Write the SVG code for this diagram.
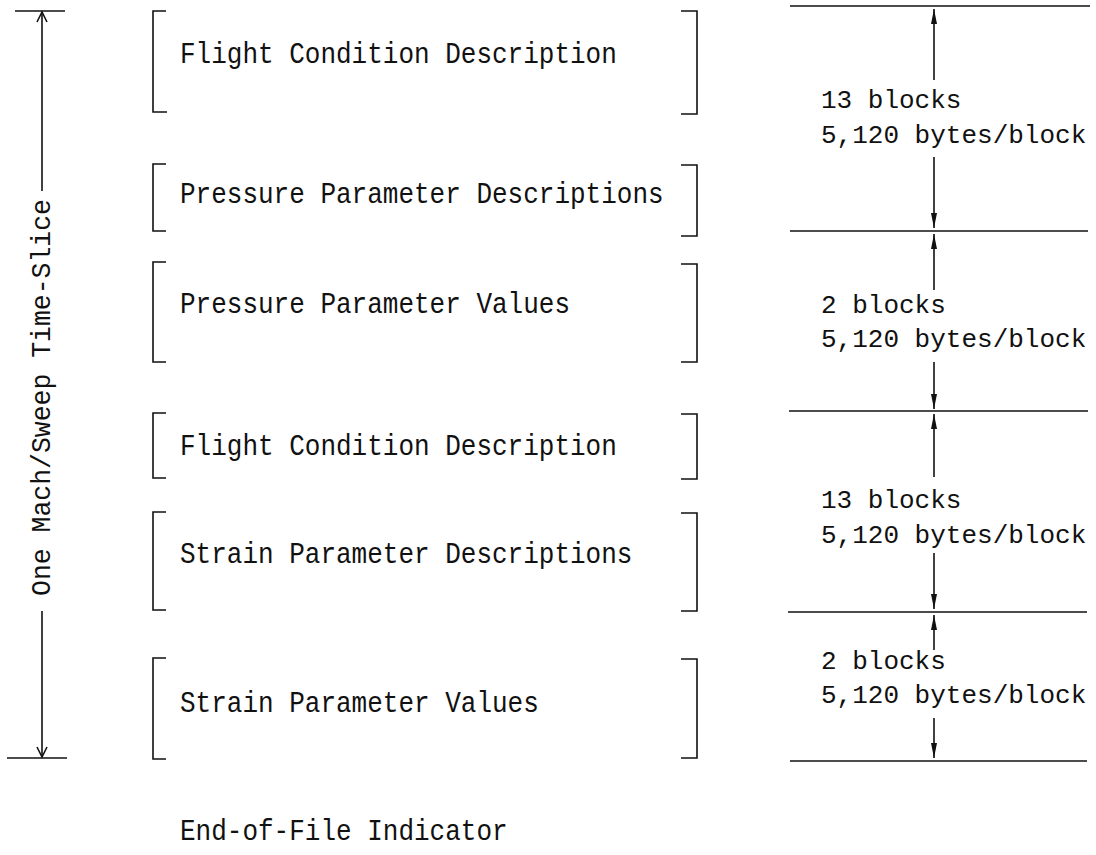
<svg xmlns="http://www.w3.org/2000/svg" width="1096" height="855" viewBox="0 0 1096 855">
<style>
.ln{stroke:#111;stroke-width:1.6;fill:none}
.br{stroke:#111;stroke-width:1.6;fill:none}
.t{font-family:"Liberation Mono","DejaVu Sans Mono",monospace;font-size:29px;fill:#111}
.tr{font-family:"Liberation Mono","DejaVu Sans Mono",monospace;font-size:26px;fill:#111}
.tl{font-family:"Liberation Mono","DejaVu Sans Mono",monospace;font-size:27px;fill:#111}
</style>
<defs>
<marker id="ah" viewBox="0 0 16 8" refX="16" refY="4" markerWidth="16" markerHeight="8" markerUnits="userSpaceOnUse" orient="auto">
<path d="M16,4 L1,1 L1,7 Z" fill="#111"/>
</marker>
</defs>
<rect width="1096" height="855" fill="#fff"/>

<g id="span-label">
<line class="ln" x1="15" y1="11" x2="65" y2="11"/>
<line class="ln" x1="7" y1="758" x2="67" y2="758"/>
<line class="ln" x1="42" y1="12" x2="42" y2="191"/>
<line class="ln" x1="42" y1="611" x2="42" y2="757"/>
<polyline class="ln" points="37,22 42,12 47,22"/>
<polyline class="ln" points="37,747 42,757 47,747"/>
<text class="tl" transform="translate(50,596) rotate(-90)" textLength="397" lengthAdjust="spacingAndGlyphs">One Mach/Sweep Time-Slice</text>
</g>

<g id="node-flight1">
<path class="br" d="M166,11 H153 V112 H167"/>
<path class="br" d="M681,11 H697 V114 H681"/>
<text class="t" x="180" y="63" textLength="436.8" lengthAdjust="spacingAndGlyphs">Flight Condition Description</text>
</g>
<g id="node-pressure-desc">
<path class="br" d="M166,164 H153 V231 H166"/>
<path class="br" d="M681,165 H697 V236 H681"/>
<text class="t" x="180" y="203" textLength="483.6" lengthAdjust="spacingAndGlyphs">Pressure Parameter Descriptions</text>
</g>
<g id="node-pressure-values">
<path class="br" d="M166,262 H153 V362 H166"/>
<path class="br" d="M681,264 H697 V362 H681"/>
<text class="t" x="180" y="313" textLength="390" lengthAdjust="spacingAndGlyphs">Pressure Parameter Values</text>
</g>
<g id="node-flight2">
<path class="br" d="M166,413 H153 V478 H166"/>
<path class="br" d="M681,414 H697 V479 H681"/>
<text class="t" x="180" y="455" textLength="436.8" lengthAdjust="spacingAndGlyphs">Flight Condition Description</text>
</g>
<g id="node-strain-desc">
<path class="br" d="M166,512 H153 V610 H166"/>
<path class="br" d="M681,513 H697 V611 H681"/>
<text class="t" x="180" y="563" textLength="452.4" lengthAdjust="spacingAndGlyphs">Strain Parameter Descriptions</text>
</g>
<g id="node-strain-values">
<path class="br" d="M166,658 H153 V759 H166"/>
<path class="br" d="M681,659 H697 V758 H681"/>
<text class="t" x="180" y="712" textLength="358.8" lengthAdjust="spacingAndGlyphs">Strain Parameter Values</text>
</g>
<g id="node-eof">
<text class="t" x="180" y="840" textLength="327.6" lengthAdjust="spacingAndGlyphs">End-of-File Indicator</text>
</g>

<g id="connectors">
<line class="ln" x1="790" y1="6" x2="1090" y2="6"/>
<line class="ln" x1="790" y1="231" x2="1088" y2="231"/>
<line class="ln" x1="789" y1="411" x2="1088" y2="411"/>
<line class="ln" x1="788" y1="612" x2="1087" y2="612"/>
<line class="ln" x1="790" y1="761" x2="1087" y2="761"/>

<line class="ln" x1="934" y1="80" x2="934" y2="9" marker-end="url(#ah)"/>
<line class="ln" x1="934" y1="157" x2="934" y2="228" marker-end="url(#ah)"/>
<line class="ln" x1="934" y1="290" x2="934" y2="234" marker-end="url(#ah)"/>
<line class="ln" x1="934" y1="362" x2="934" y2="409" marker-end="url(#ah)"/>
<line class="ln" x1="934" y1="477" x2="934" y2="414" marker-end="url(#ah)"/>
<line class="ln" x1="934" y1="553" x2="934" y2="609" marker-end="url(#ah)"/>
<line class="ln" x1="934" y1="650" x2="934" y2="615" marker-end="url(#ah)"/>
<line class="ln" x1="934" y1="718" x2="934" y2="758" marker-end="url(#ah)"/>
</g>

<g id="size-labels">
<text class="tr" x="821" y="108">13 blocks</text>
<text class="tr" x="821" y="143">5,120 bytes/block</text>
<text class="tr" x="821" y="313">2 blocks</text>
<text class="tr" x="821" y="347">5,120 bytes/block</text>
<text class="tr" x="821" y="508">13 blocks</text>
<text class="tr" x="821" y="543">5,120 bytes/block</text>
<text class="tr" x="821" y="669">2 blocks</text>
<text class="tr" x="821" y="703">5,120 bytes/block</text>
</g>
</svg>
